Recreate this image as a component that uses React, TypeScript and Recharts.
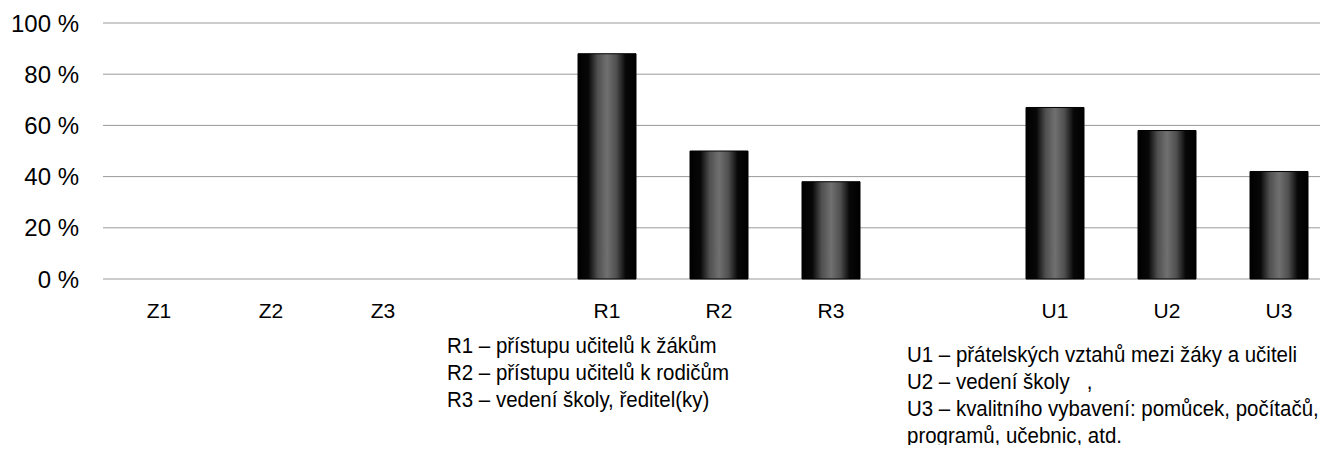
import React from "react";
import { BarChart, Bar, XAxis, YAxis, CartesianGrid } from "recharts";

const categories = ["Z1", "Z2", "Z3", "", "R1", "R2", "R3", "", "U1", "U2", "U3"];
const values = [null, null, null, null, 88, 50, 38, null, 67, 58, 42];
const yTicks = [0, 20, 40, 60, 80, 100];

const rNotes = [
  "R1 – přístupu učitelů k žákům",
  "R2 – přístupu učitelů k rodičům",
  "R3 – vedení školy, ředitel(ky)",
];
const uNotes = [
  "U1 – přátelských vztahů mezi žáky a učiteli",
  "U2 – vedení školy   ,",
  "U3 – kvalitního vybavení: pomůcek, počítačů,",
  "programů, učebnic, atd.",
];

const data = categories.map((name, i) => ({ name, value: values[i] }));

const font = "'Liberation Sans', Arial, sans-serif";

const noteStyle: React.CSSProperties = {
  position: "absolute",
  fontFamily: font,
  fontSize: "22px",
  lineHeight: "27px",
  color: "#000",
  whiteSpace: "pre",
  transform: "scaleX(0.93)",
  transformOrigin: "0 0",
};

const App = () => {
  return (
    <div
      style={{
        position: "relative",
        margin: "-8px",
        width: "1328px",
        height: "453px",
        overflow: "hidden",
        background: "#fff",
      }}
    >
      <BarChart
        width={1335}
        height={335}
        data={data}
        barSize={58}
        margin={{ top: 23, right: 0, left: 0, bottom: 0 }}
      >
        <defs>
          <linearGradient id="barFill" x1="0" y1="0" x2="1" y2="0">
            <stop offset="0%" stopColor="#000" />
            <stop offset="18%" stopColor="#080808" />
            <stop offset="34%" stopColor="#505050" />
            <stop offset="50%" stopColor="#707070" />
            <stop offset="66%" stopColor="#505050" />
            <stop offset="82%" stopColor="#080808" />
            <stop offset="100%" stopColor="#000" />
          </linearGradient>
        </defs>
        <CartesianGrid vertical={false} stroke="#9a9a9a" />
        <XAxis
          dataKey="name"
          axisLine={false}
          tickLine={false}
          tickSize={0}
          tickMargin={24}
          height={56}
          interval={0}
          style={{ fontSize: "21px", fontFamily: font, fill: "#000" }}
        />
        <YAxis
          domain={[0, 100]}
          ticks={yTicks}
          axisLine={false}
          tickLine={false}
          tickSize={0}
          tickMargin={24}
          width={103}
          tickFormatter={(v) => `${v} %`}
          style={{ fontSize: "24px", fontFamily: font, fill: "#000" }}
        />
        <Bar
          dataKey="value"
          fill="url(#barFill)"
          stroke="#000"
          strokeWidth={1}
          isAnimationActive={false}
        />
      </BarChart>
      <div style={{ ...noteStyle, left: "447px", top: "332px" }}>
        {rNotes.map((t) => (
          <div key={t}>{t}</div>
        ))}
      </div>
      <div style={{ ...noteStyle, left: "907px", top: "341px" }}>
        {uNotes.map((t) => (
          <div key={t}>{t}</div>
        ))}
      </div>
    </div>
  );
};

export default App;
